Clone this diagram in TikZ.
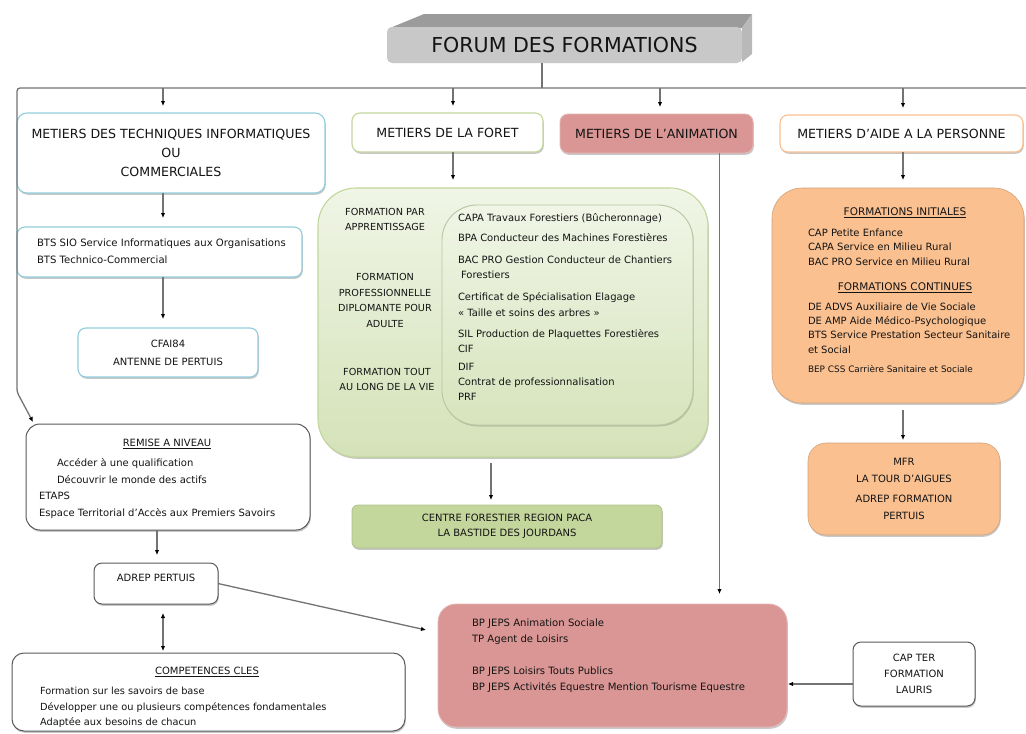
\documentclass[tikz,border=0pt]{standalone}
\usepackage{fontspec}
\setmainfont{DejaVu Sans}
\usetikzlibrary{arrows.meta,calc,shadows}
\definecolor{txt}{RGB}{20,20,20}
\definecolor{lnc}{RGB}{115,115,115}
\definecolor{bluebd}{RGB}{146,205,220}
\definecolor{greenbd}{RGB}{195,214,155}
\definecolor{greenfill}{RGB}{195,214,155}
\definecolor{greentop}{RGB}{240,245,230}
\definecolor{greenbot}{RGB}{212,226,184}
\definecolor{pinkfill}{RGB}{217,150,148}
\definecolor{pinkbd}{RGB}{229,184,183}
\definecolor{orfill}{RGB}{250,192,144}
\definecolor{darkbd}{RGB}{90,90,90}
\definecolor{tfront}{RGB}{200,200,200}
\definecolor{ttop}{RGB}{155,155,155}
\definecolor{tside}{RGB}{185,185,185}
\newcommand{\fsz}[2]{\fontsize{#1}{#2}\selectfont}
\begin{document}
\begin{tikzpicture}[x=1pt,y=-1pt,
  every node/.style={inner sep=0pt,outer sep=0pt,text=txt},
  shd/.style={drop shadow={shadow xshift=0.8pt,shadow yshift=-1.8pt,opacity=0.22,fill=black}},
  bluebox/.style={draw=bluebd,line width=1.1pt,fill=white,rounded corners=#1,shd},
  greenline/.style={draw=greenbd,line width=1.1pt,fill=white,rounded corners=#1,shd},
  greenbox/.style={draw=greenbd!90!black,line width=0.8pt,fill=greenfill,rounded corners=#1,shd},
  pinkbox/.style={draw=pinkbd,line width=0.8pt,fill=pinkfill,rounded corners=#1,shd},
  orangeline/.style={draw=orfill,line width=1.1pt,fill=white,rounded corners=#1,shd},
  orangebox/.style={draw=orfill!85!black,line width=0.6pt,fill=orfill,rounded corners=#1,shd},
  darkbox/.style={draw=darkbd,line width=1pt,fill=white,rounded corners=#1,shd},
  head/.style={font=\fsz{12.6}{19}, align=center},
  body/.style={font=\fsz{10}{15}},
  conn/.style={draw=lnc,line width=1.3pt},
  arr/.style={draw=lnc,line width=1.3pt,-{Latex[length=5pt,width=4.5pt,color=black]}},
  darr/.style={draw=lnc,line width=1.3pt,{Latex[length=5pt,width=4.5pt,color=black]}-{Latex[length=5pt,width=4.5pt,color=black]}}
]
\useasboundingbox (0,0) rectangle (1026,734);
\fill[white] (0,0) rectangle (1026,734);

% ---------- title ----------
\fill[ttop] (390,28) -- (424,14) -- (752,14) -- (742,28) -- cycle;
\fill[tside] (742,28) -- (752,14) -- (752,54) -- (742,62) -- cycle;
\node[fill=tfront, rounded corners=5pt, minimum width=355pt, minimum height=36pt,
      font=\fsz{20.6}{24}] (title) at (564.5,45) {FORUM DES FORMATIONS};

% ---------- bus ----------
\coordinate (busL) at (17,88);
\coordinate (busR) at (1026,88);
\coordinate (bend) at (17,392);

% ---------- boxes ----------
\node[bluebox=10pt, minimum width=308pt, minimum height=80pt, head] (metinfo) at (171,153)
  {METIERS DES TECHNIQUES INFORMATIQUES\\OU\\COMMERCIALES};
\node[bluebox=8pt, minimum width=285pt, minimum height=50pt] (bts) at (159.5,252) {};
\node[bluebox=8pt, minimum width=180pt, minimum height=49pt, align=center,
      font=\fsz{10}{18}] (cfai) at (168,352.5) {CFAI84\\ANTENNE DE PERTUIS};

\node[greenline=8pt, minimum width=191pt, minimum height=39pt, head] (foret) at (447.5,132.5)
  {METIERS DE LA FORET};
\node[pinkbox=8pt, minimum width=193pt, minimum height=39pt, head] (anim) at (656.5,133.5)
  {METIERS DE L’ANIMATION};
\node[orangeline=8pt, minimum width=243pt, minimum height=37pt, head] (aide) at (901.5,133.5)
  {METIERS D’AIDE A LA PERSONNE};

\node[draw=greenbd, line width=1.1pt, rounded corners=38pt, top color=greentop,
      bottom color=greenbot, minimum width=390pt, minimum height=269pt, shd] (green) at (513,322.5) {};
\node[draw=greenbd!80!black!70, line width=0.9pt, rounded corners=35pt, top color=greentop,
      bottom color=greenbot!90!greentop, minimum width=251pt, minimum height=220pt,
      drop shadow={shadow xshift=0.8pt,shadow yshift=-1.5pt,opacity=0.15,fill=black}] (inner) at (567.5,315) {};

\node[greenbox=6pt, minimum width=310pt, minimum height=43pt, align=center, font=\fsz{10}{15}]
  (centre) at (507,526.5) {CENTRE FORESTIER REGION PACA\\LA BASTIDE DES JOURDANS};

\node[orangebox=30pt, minimum width=252pt, minimum height=215pt] (orange) at (898,295.5) {};
\node[orangebox=18pt, minimum width=192pt, minimum height=92pt, align=center,
      font=\fsz{10}{16.5}] (mfr) at (904,489)
  {MFR\\LA TOUR D’AIGUES\\[4pt]ADREP FORMATION\\PERTUIS};

\node[darkbox=14pt, minimum width=284pt, minimum height=106pt] (remise) at (168,477) {};
\node[darkbox=8pt, minimum width=124pt, minimum height=41pt] (adrep) at (156,583.5) {};
\node[darkbox=12pt, minimum width=393pt, minimum height=78pt] (comp) at (208.5,692) {};

\node[pinkbox=18pt, minimum width=349pt, minimum height=123pt] (bp) at (612.5,665.5) {};
\node[darkbox=8pt, minimum width=122pt, minimum height=64pt, align=center,
      font=\fsz{10}{16}] (cap) at (914,674) {CAP TER\\FORMATION\\LAURIS};

% ---------- texts ----------
\node[align=left, anchor=north west, font=\fsz{10.1}{17}] (tbts) at (37,238.5)
  {BTS SIO Service Informatiques aux Organisations\\BTS Technico-Commercial};

\node[align=center, anchor=north, font=\fsz{9.7}{15}] (tf1) at (385,208.5)
  {FORMATION PAR\\APPRENTISSAGE};
\node[align=center, anchor=north, font=\fsz{9.7}{15.5}] (tf2) at (385,273.5)
  {FORMATION\\PROFESSIONNELLE\\DIPLOMANTE POUR\\ADULTE};
\node[align=center, anchor=north, font=\fsz{9.7}{15}] (tf3) at (387,368.5)
  {FORMATION TOUT\\AU LONG DE LA VIE};
\node[align=left, anchor=north west, font=\fsz{10}{15}] (tfr) at (458,213.5)
  {CAPA Travaux Forestiers (Bûcheronnage)\\[5pt]
   BPA Conducteur des Machines Forestières\\[7pt]
   BAC PRO Gestion Conducteur de Chantiers\\
   \hspace*{3pt}Forestiers\\[7pt]
   Certificat de Spécialisation Elagage\\[1pt]
   « Taille et soins des arbres »\\[6pt]
   SIL Production de Plaquettes Forestières\\
   CIF\\[3pt]
   DIF\\
   Contrat de professionnalisation\\
   PRF};

\node[anchor=base, font=\fsz{10.5}{15}] (th1) at (905,215.6) {\underline{FORMATIONS INITIALES}};
\node[align=left, anchor=north west, font=\fsz{10}{14.5}] (tl1) at (808,228.5)
  {CAP Petite Enfance\\CAPA Service en Milieu Rural\\BAC PRO Service en Milieu Rural};
\node[anchor=base, font=\fsz{10.5}{15}] (th2) at (905,290.6) {\underline{FORMATIONS CONTINUES}};
\node[align=left, anchor=north west, font=\fsz{10}{14.4}] (tl2) at (808,302.5)
  {DE ADVS Auxiliaire de Vie Sociale\\DE AMP Aide Médico-Psychologique\\BTS Service Prestation Secteur Sanitaire\\et Social};
\node[anchor=base west, font=\fsz{8.9}{12}] (tbep) at (808,372) {BEP CSS Carrière Sanitaire et Sociale};

\node[anchor=base, font=\fsz{10}{15}] (trh) at (167,446.6) {\underline{REMISE A NIVEAU}};
\node[align=left, anchor=north west, font=\fsz{10}{16.7}] (trb) at (39,458.5)
  {\hspace*{18pt}Accéder à une qualification\\
   \hspace*{18pt}Découvrir le monde des actifs\\
   ETAPS\\
   Espace Territorial d’Accès aux Premiers Savoirs};

\node[anchor=base, font=\fsz{10}{15}] (tad) at (156,581.6) {ADREP PERTUIS};

\node[anchor=base, font=\fsz{10}{15}] (tch) at (207,674.6) {\underline{COMPETENCES CLES}};
\node[align=left, anchor=north west, font=\fsz{9.8}{15.5}] (tcb) at (40,687.5)
  {Formation sur les savoirs de base\\
   Développer une ou plusieurs compétences fondamentales\\
   Adaptée aux besoins de chacun};

\node[align=left, anchor=north west, font=\fsz{10.1}{16}] (tbp) at (472,618.5)
  {BP JEPS Animation Sociale\\
   TP Agent de Loisirs\\[16pt]
   BP JEPS Loisirs Touts Publics\\
   BP JEPS Activités Equestre Mention Tourisme Equestre};

% ---------- connectors ----------
\draw[conn] ([xshift=-22.5pt]title.south) -- ([xshift=-22.5pt]title.south |- busL);
\draw[arr, rounded corners=3pt] (busR) -- (busL) -- (bend) -- ($(remise.north west)+(7,-2)$);

\draw[arr, shorten >=7pt] ([xshift=-8pt]metinfo.north |- busL) -- ([xshift=-8pt]metinfo.north);
\draw[arr, shorten >=7pt] ([xshift=5.5pt]foret.north |- busL) -- ([xshift=5.5pt]foret.north);
\draw[arr, shorten >=7pt] ([xshift=3.5pt]anim.north |- busL) -- ([xshift=3.5pt]anim.north);
\draw[arr, shorten >=7pt] ([xshift=1.5pt]aide.north |- busL) -- ([xshift=1.5pt]aide.north);

\draw[arr, shorten >=9pt] ([xshift=-8pt]metinfo.south) -- ([xshift=-8pt]metinfo.south |- bts.north);
\draw[arr, shorten >=9pt] ([xshift=3.5pt]bts.south) -- ([xshift=3.5pt]bts.south |- cfai.north);
\draw[arr, shorten >=8pt] ([xshift=5.5pt]foret.south) -- ([xshift=5.5pt]foret.south |- green.north);
\draw[arr, shorten <=6pt, shorten >=5pt] ([xshift=-16pt]centre.north |- green.south) -- ([xshift=-16pt]centre.north);
\draw[arr, shorten >=10pt] ([xshift=63pt]anim.south) -- ([xshift=63pt]anim.south |- bp.north);
\draw[arr, shorten >=8pt] ([xshift=1.5pt]aide.south) -- ([xshift=1.5pt]aide.south |- orange.north);
\draw[arr, shorten <=7pt, shorten >=3pt] ([xshift=-1pt]mfr.north |- orange.south) -- ([xshift=-1pt]mfr.north);
\draw[arr, shorten >=8pt] ([xshift=-11pt]remise.south) -- ([xshift=-11pt]remise.south |- adrep.north);
\draw[darr, shorten <=9pt, shorten >=2pt] ([xshift=7pt]adrep.south) -- ([xshift=7pt]adrep.south |- comp.north);
\draw[arr] (adrep.east) -- ($(bp.north west)+(-12,26)$);
\draw[arr, shorten >=1pt] ([yshift=-10pt]cap.west) -- ([yshift=-10pt]cap.west -| bp.east);
\end{tikzpicture}
\end{document}
